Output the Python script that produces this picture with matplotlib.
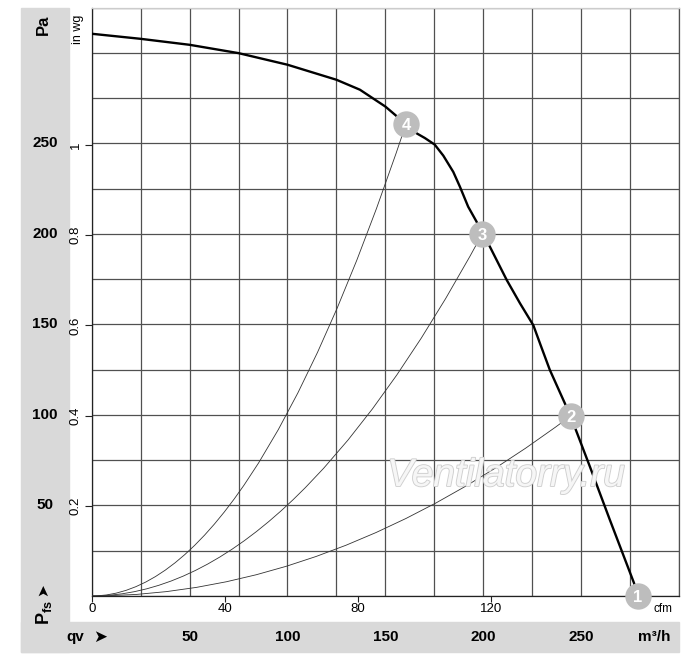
import matplotlib
matplotlib.use('Agg')
import matplotlib.pyplot as plt
from matplotlib.patches import Rectangle, PathPatch
from matplotlib.path import Path
import matplotlib.patheffects as pe
import matplotlib.transforms as mtransforms
import numpy as np

plt.rcParams['font.family'] = ['Liberation Sans', 'DejaVu Sans']
plt.rcParams['mathtext.fontset'] = 'custom'
plt.rcParams['mathtext.bf'] = 'Liberation Sans:bold'
plt.rcParams['mathtext.rm'] = 'Liberation Sans'

# fan curve (flow in m3/h, static pressure in Pa)
fan_q = [0, 25, 50, 75, 100, 125, 137, 150, 155, 160.5, 166, 170.2, 175.2,
         179.6, 184.7, 188.1, 192.3, 196.6, 199.5, 203.4, 212, 218.8, 225.6,
         229.5, 234, 244.6, 254.5, 264.7, 277, 279]
fan_p = [310.5, 307.7, 304.4, 299.8, 293.4, 285.1, 279.6, 270.3, 265.7,
         260.5, 255.5, 252.9, 249.3, 243.2, 234.2, 226, 215, 206.7, 200,
         192.9, 174.5, 161.6, 149.5, 138, 124.9, 99.4, 71.4, 42, 7.2, 0]

# numbered operating points
op_label = ['1', '2', '3', '4']
op_q = [279, 244.6, 199.5, 160.5]
op_p = [0, 99.4, 200, 260.5]

pa_ticks = [50, 100, 150, 200, 250]
inwg_ticks = [0.2, 0.4, 0.6, 0.8, 1.0]
inwg_labels = ['0.2', '0.4', '0.6', '0.8', '1']
m3h_ticks = [50, 100, 150, 200, 250]
cfm_ticks = [0, 40, 80, 120]

W, H = 700, 667
fig = plt.figure(figsize=(W / 100, H / 100), dpi=100)

# grey bands
band = '#d9d9d9'
fig.patches.append(Rectangle((21 / W, 1 - 652 / H), 48 / W, 644 / H,
                             transform=fig.transFigure, color=band, zorder=-5))
fig.patches.append(Rectangle((21 / W, 1 - 652 / H), 658 / W, 30 / H,
                             transform=fig.transFigure, color=band, zorder=-5))

ax = fig.add_axes([91.7 / W, 1 - 596 / H, 587.3 / W, 588.5 / H])
ax.set_xlim(0, 300)
ax.set_ylim(0, 325)
ax.set_xticks(np.arange(0, 301, 25))
ax.set_yticks(np.arange(0, 326, 25))
ax.tick_params(length=0, labelbottom=False, labelleft=False)
ax.grid(True, color='#505050', lw=0.9)
for s in ax.spines.values():
    s.set_color('#505050')
    s.set_linewidth(0.9)
ax.spines['left'].set_color('#222222')
ax.spines['bottom'].set_color('#222222')
ax.spines['top'].set_color('#cccccc')

# secondary scales: inch water gauge and cfm
inwg = ax.secondary_yaxis('left', functions=(lambda p: p / 249.09, lambda v: v * 249.09))
inwg.set_yticks(inwg_ticks)
inwg.set_yticklabels(inwg_labels, rotation=90, va='center', fontsize=9.5)
inwg.tick_params(length=5, width=0.8, pad=2, color='#222222')
inwg.spines['left'].set_visible(False)

cfm = ax.secondary_xaxis('bottom', functions=(lambda q: q / 1.699, lambda c: c * 1.699))
cfm.set_xticks(cfm_ticks)
cfm.set_xticklabels([str(c) for c in cfm_ticks], fontsize=9.5)
cfm.tick_params(length=4, width=0.8, pad=1, color='#222222')
cfm.spines['bottom'].set_visible(False)

# system curves (parabolas through origin, drawn as quadratic beziers)
for q, p in zip(op_q[1:], op_p[1:]):
    path = Path([(0, 0), (q / 2, 0), (q, p)], [Path.MOVETO, Path.CURVE3, Path.CURVE3])
    ax.add_patch(PathPatch(path, fc='none', ec='#333333', lw=0.6, zorder=3))

ax.plot(fan_q, fan_p, color='black', lw=1.7, zorder=4, solid_joinstyle='round')

ax.plot(op_q, op_p, 'o', ms=19, color='#bdbdbd', mec='none', zorder=5, clip_on=False)
for lab, q, p in zip(op_label, op_q, op_p):
    ax.text(q, p, lab, color='white', fontsize=12, fontweight='bold',
            ha='center', va='center_baseline', zorder=6, clip_on=False)

# Pa labels in the left band
ty = mtransforms.blended_transform_factory(fig.transFigure, ax.transData)
for p in pa_ticks:
    ax.text(45 / W, p, str(p), transform=ty, ha='center', va='center',
            fontsize=11, fontweight='bold', clip_on=False)
# m3/h labels in the bottom band
tx = mtransforms.blended_transform_factory(ax.transData, fig.transFigure)
for q in m3h_ticks:
    ax.text(q, 1 - 637 / H, str(q), transform=tx, ha='center', va='center',
            fontsize=11, fontweight='bold', clip_on=False)

fig.text(43 / W, 1 - 25 / H, 'Pa', rotation=90, ha='center', va='center',
         fontsize=12, fontweight='bold')
fig.text(78 / W, 1 - 29 / H, 'in wg', rotation=90, ha='center', va='center',
         fontsize=9)
fig.text(663 / W, 1 - 609 / H, 'cfm', ha='center', va='center', fontsize=8.5)
fig.text(654 / W, 1 - 637 / H, 'm³/h', ha='center', va='center',
         fontsize=11, fontweight='bold')
fig.text(44 / W, 1 - 613 / H, r'$\mathbf{P_{fs}}$', rotation=90, ha='center',
         va='center', fontsize=13)
fig.text(43 / W, 1 - 590 / H, '➤', rotation=90, ha='center', va='center',
         fontsize=11)
fig.text(75 / W, 1 - 637 / H, 'qv', ha='center', va='center',
         fontsize=11, fontweight='bold')
fig.text(100 / W, 1 - 637 / H, '➤', ha='center', va='center', fontsize=12)

# watermark
fig.text(506 / W, 1 - 486 / H, 'Ventilatorry.ru', ha='center', va='baseline',
         fontsize=28, style='italic', color='#f6f6f6', zorder=2,
         path_effects=[pe.Stroke(linewidth=1.3, foreground='#cfcfcf'), pe.Normal()])

fig.savefig('out.png', dpi=100)
